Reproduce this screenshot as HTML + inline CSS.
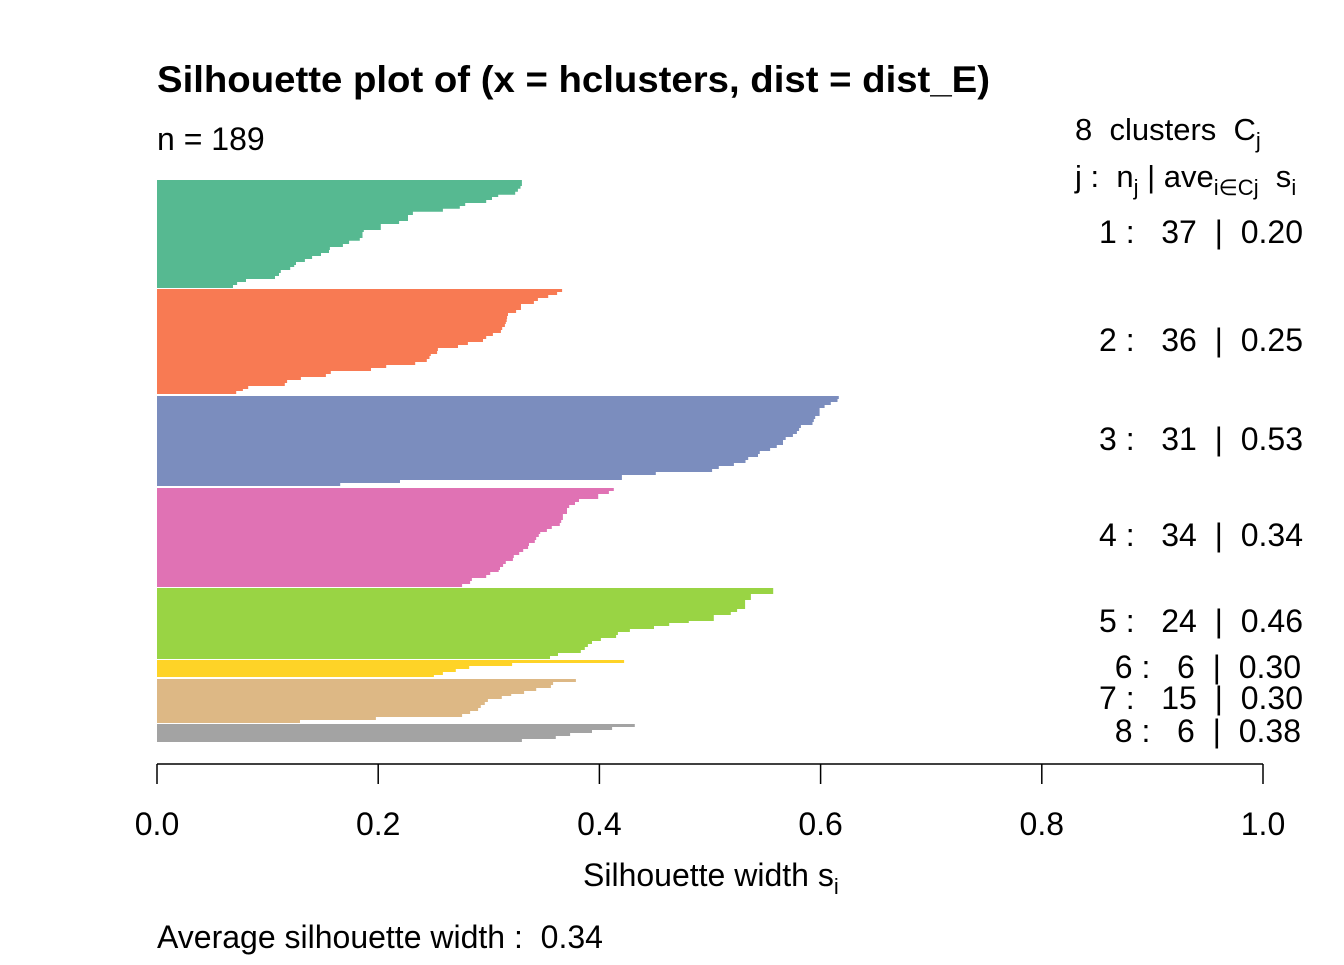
<!DOCTYPE html>
<html><head><meta charset="utf-8"><style>
body{margin:0;background:#fff}
svg text{font-family:"Liberation Sans",Arial,sans-serif;fill:#000;white-space:pre}
</style></head><body>
<svg id="s" width="1344" height="960" viewBox="0 0 1344 960" xmlns="http://www.w3.org/2000/svg">
<rect width="1344" height="960" fill="#fff"/>
<g id="bars"></g>
<text x="157" y="92" font-size="37" font-weight="bold" textLength="833" lengthAdjust="spacingAndGlyphs">Silhouette plot of (x = hclusters, dist = dist_E)</text>
<text x="157" y="150" font-size="32">n = 189</text>
<text x="1075" y="140" font-size="31">8  clusters  C<tspan font-size="22" dy="8">j</tspan></text>
<text x="1075" y="187" font-size="31">j :  n<tspan font-size="22" dy="8">j</tspan><tspan dy="-8"> | ave</tspan><tspan font-size="22" dy="8">i∈Cj</tspan><tspan dy="-8">  s</tspan><tspan font-size="22" dy="8">i</tspan></text>
<g font-size="32" text-anchor="end">
<text x="1303" y="243">1 :   37  |  0.20</text>
<text x="1303" y="351">2 :   36  |  0.25</text>
<text x="1303" y="450">3 :   31  |  0.53</text>
<text x="1303" y="546">4 :   34  |  0.34</text>
<text x="1303" y="632">5 :   24  |  0.46</text>
<text x="1301" y="678">6 :   6  |  0.30</text>
<text x="1303" y="709">7 :   15  |  0.30</text>
<text x="1301" y="742">8 :   6  |  0.38</text>
</g>
<g stroke="#000" stroke-width="1.5">
<line x1="157" y1="764" x2="1263" y2="764"/>
<line x1="157" y1="764" x2="157" y2="784"/>
<line x1="378.2" y1="764" x2="378.2" y2="784"/>
<line x1="599.4" y1="764" x2="599.4" y2="784"/>
<line x1="820.6" y1="764" x2="820.6" y2="784"/>
<line x1="1041.8" y1="764" x2="1041.8" y2="784"/>
<line x1="1263" y1="764" x2="1263" y2="784"/>
</g>
<g font-size="32" text-anchor="middle">
<text x="157" y="835">0.0</text>
<text x="378.2" y="835">0.2</text>
<text x="599.4" y="835">0.4</text>
<text x="820.6" y="835">0.6</text>
<text x="1041.8" y="835">0.8</text>
<text x="1263" y="835">1.0</text>
</g>
<text x="583" y="886" font-size="32">Silhouette width s<tspan font-size="22" dy="8">i</tspan></text>
<text x="157" y="948" font-size="32">Average silhouette width :  0.34</text>
</svg>
<script>
var C=[
["#56B991",170,354,[30,833,48,830,56,824,65,818,74,780,81,766,90,753,99,706,108,694,116,656,125,589,135,578,153,558,162,517,180,479,186,476,204,470,212,446,222,432,231,403,240,401,249,383,258,363,267,347,276,327,285,323,291,314,300,293,309,289,318,280,327,215,336,195,345,186]],
["#F87A53",170,672,[357,923,366,912,375,892,384,869,393,860,402,831,420,820,429,802,438,800,447,799,456,797,462,795,471,789,480,786,489,768,498,753,507,746,516,712,525,690,534,645,543,643,552,629,558,626,567,620,576,594,585,529,594,495,603,405,612,394,621,338,630,307,639,302,648,220,657,208,663,193]],
["#7B8DBE",170,948,[678,1543,687,1540,696,1525,705,1511,714,1500,738,1490,747,1487,756,1484,765,1458,774,1454,783,1449,792,1440,801,1424,810,1418,825,1404,834,1389,843,1366,852,1362,861,1340,870,1334,879,1308,888,1274,897,1259,906,1133,915,1057,930,560,939,426]],
["#E072B4",480,321,[24,1039,33,1028,42,1004,57,961,66,952,75,939,84,934,102,925,120,921,129,918,138,900,147,889,156,874,162,871,171,865,180,862,189,849,198,847,207,836,216,827,225,815,234,813,243,797,252,791,261,784,270,781,276,762,285,753,294,721,303,717,312,699]],
["#99D444",480,537,[324,1396,342,1346,360,1333,387,1315,396,1301,405,1263,423,1207,429,1163,438,1129,447,1075,456,1048,465,1044,474,1010,483,990,492,981,501,974,510,965,519,914,528,896]],
["#FED327",480,591,[540,1062,549,811,558,715,567,685,576,656,585,636]],
["#DDB885",480,729,[597,954,606,903,615,898,624,865,633,838,642,809,648,788,657,757,666,750,675,741,684,735,693,717,702,699,711,506,720,336]],
["#A3A3A3",480,786,[732,1086,741,1035,750,990,759,941,768,909,777,833]]
];
var h="";
C.forEach(function(c){var y0=c[1],a=c[3],end=c[2];var d="M157 "+(y0+a[0]/3);
for(var i=0;i<a.length;i+=2){var y=y0+a[i]/3,x=150+a[i+1]/2.24;var yn=(i+2<a.length)?y0+a[i+2]/3:y0+end/3;
d+=" L"+x.toFixed(1)+" "+y.toFixed(1)+" L"+x.toFixed(1)+" "+yn.toFixed(1);}
d+=" L157 "+(y0+end/3).toFixed(1)+" Z";h+='<path d="'+d+'" fill="'+c[0]+'"/>';});
document.getElementById("bars").innerHTML=h;
</script>
</body></html>
